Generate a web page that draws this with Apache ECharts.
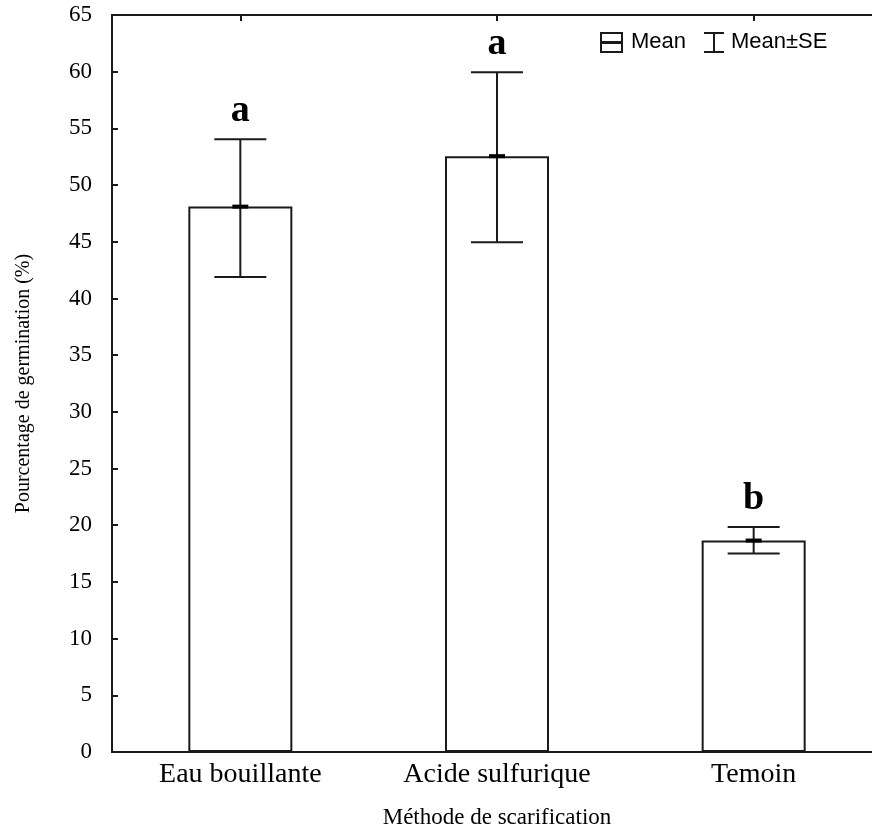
<!DOCTYPE html>
<html>
<head>
<meta charset="utf-8">
<script src="https://cdn.jsdelivr.net/npm/echarts@6/dist/echarts.min.js"></script>
<style>html,body{margin:0;padding:0;background:#fff;}#chart{width:872px;height:829px;}</style>
</head>
<body>
<div id="chart"></div>
<script>
const categories = ['Eau bouillante', 'Acide sulfurique', 'Temoin'];
const means = [48.1, 52.55, 18.65];
const lowSE = [41.9, 44.95, 17.5];
const highSE = [54.05, 59.95, 19.85];
const letters = ['a', 'a', 'b'];
const yTicks = { min: 0, max: 65, interval: 5 };

const serif = '"Liberation Serif", "Times New Roman", serif';
const sans = '"Liberation Sans", Arial, sans-serif';
const ink = '#1a1a1a';

const chart = echarts.init(document.getElementById('chart'), null, { renderer: 'canvas' });

const errData = categories.map((c, i) => [i, means[i], lowSE[i], highSE[i]]);

chart.setOption({
  animation: false,
  backgroundColor: '#fff',
  grid: {
    left: 112, top: 15, width: 770, height: 737,
    outerBoundsMode: 'none',
    containLabel: false,
    show: true, borderColor: ink, borderWidth: 2, backgroundColor: 'transparent'
  },
  xAxis: [{
    type: 'category',
    data: categories,
    position: 'bottom',
    axisLine: { show: true, lineStyle: { color: ink, width: 2 } },
    axisTick: { show: true, inside: true, alignWithLabel: true, length: 6, lineStyle: { color: ink, width: 2 } },
    axisLabel: { color: '#000', fontFamily: serif, fontSize: 28, margin: 9 },
    name: 'Méthode de scarification',
    nameLocation: 'middle',
    nameGap: 54,
    nameTextStyle: { color: '#000', fontFamily: serif, fontSize: 23 }
  }, {
    type: 'category',
    data: categories,
    position: 'top',
    axisLine: { show: true, lineStyle: { color: ink, width: 2 } },
    axisTick: { show: true, inside: true, alignWithLabel: true, length: 6, lineStyle: { color: ink, width: 2 } },
    axisLabel: { show: false }
  }],
  yAxis: {
    type: 'value',
    min: yTicks.min, max: yTicks.max, interval: yTicks.interval,
    axisLine: { show: true, lineStyle: { color: ink, width: 2 } },
    axisTick: { show: true, inside: true, length: 6, lineStyle: { color: ink, width: 2 } },
    splitLine: { show: false },
    axisLabel: { color: '#000', fontFamily: serif, fontSize: 23, margin: 20 },
    name: 'Pourcentage de germination (%)',
    nameLocation: 'middle',
    nameRotate: 90,
    nameGap: 78,
    nameTextStyle: { color: '#000', fontFamily: serif, fontSize: 20, padding: [0, 0, 0, 0] }
  },
  graphic: [
    { type: 'rect', shape: { x: 601, y: 33, width: 21, height: 19 }, style: { fill: 'none', stroke: ink, lineWidth: 2 } },
    { type: 'line', shape: { x1: 601, y1: 42.5, x2: 622, y2: 42.5 }, style: { stroke: ink, lineWidth: 3 } },
    { type: 'text', x: 631, y: 42, style: { text: 'Mean', font: '22px ' + sans, fill: '#000', verticalAlign: 'middle' } },
    { type: 'line', shape: { x1: 714, y1: 33, x2: 714, y2: 52 }, style: { stroke: ink, lineWidth: 2 } },
    { type: 'line', shape: { x1: 704, y1: 33, x2: 724, y2: 33 }, style: { stroke: ink, lineWidth: 2 } },
    { type: 'line', shape: { x1: 704, y1: 52, x2: 724, y2: 52 }, style: { stroke: ink, lineWidth: 2 } },
    { type: 'text', x: 731, y: 42, style: { text: 'Mean±SE', font: '22px ' + sans, fill: '#000', verticalAlign: 'middle' } }
  ],
  series: [{
    name: 'Mean',
    type: 'bar',
    data: means,
    barWidth: 104,
    itemStyle: { color: '#fff', borderColor: ink, borderWidth: 2 },
    silent: true
  }, {
    name: 'Mean±SE',
    type: 'custom',
    data: errData,
    z: 5,
    renderItem: function (params, api) {
      const i = api.value(0);
      const pm = api.coord([i, api.value(1)]);
      const pl = api.coord([i, api.value(2)]);
      const ph = api.coord([i, api.value(3)]);
      const x = pm[0];
      const cap = 26;
      const st = { stroke: ink, lineWidth: 2 };
      return {
        type: 'group',
        children: [
          { type: 'line', shape: { x1: x, y1: ph[1], x2: x, y2: pl[1] }, style: st },
          { type: 'line', shape: { x1: x - cap, y1: ph[1], x2: x + cap, y2: ph[1] }, style: st },
          { type: 'line', shape: { x1: x - cap, y1: pl[1], x2: x + cap, y2: pl[1] }, style: st },
          { type: 'line', shape: { x1: x - 8, y1: pm[1], x2: x + 8, y2: pm[1] }, style: { stroke: '#000', lineWidth: 4 } },
          { type: 'text', style: { text: letters[params.dataIndex], x: x, y: ph[1] - 9, align: 'center', verticalAlign: 'bottom', font: 'bold 38px ' + serif, fill: '#000' } }
        ]
      };
    }
  }]
});
</script>
</body>
</html>
